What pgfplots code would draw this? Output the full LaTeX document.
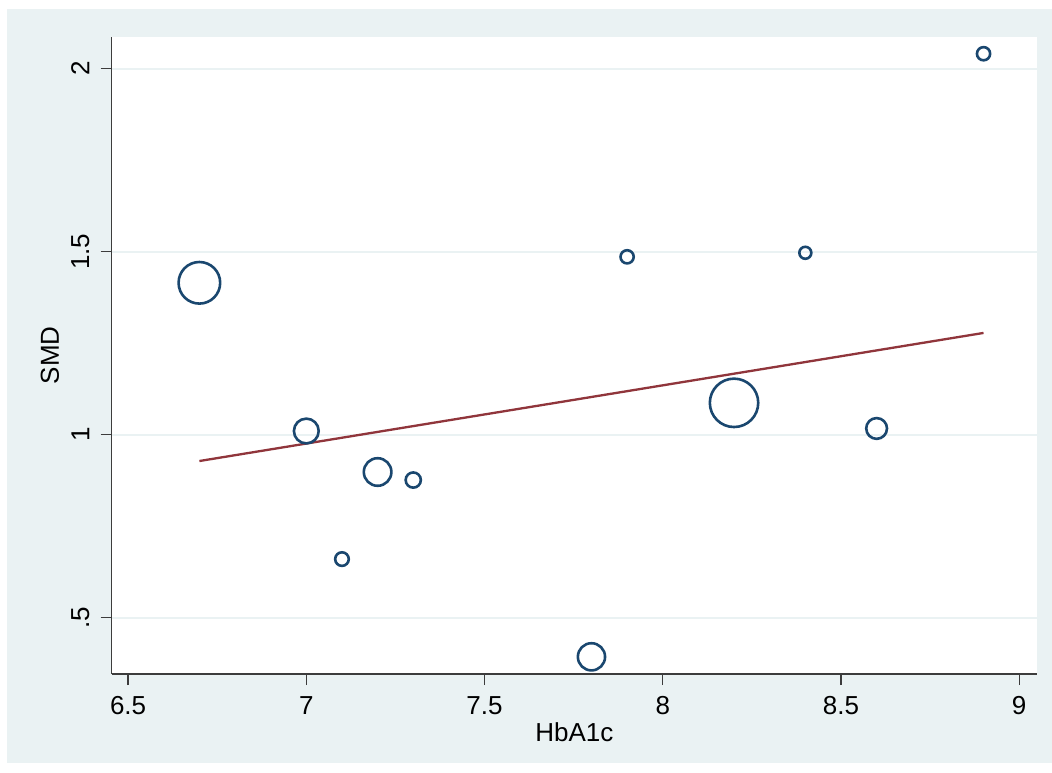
\documentclass[border=0pt]{standalone}
\usepackage{fontspec}
\setmainfont{Liberation Sans}
\usepackage{pgfplots}
\pgfplotsset{compat=1.18}
\usepackage{pgfplotstable}
\definecolor{bgc}{HTML}{EAF2F3}
\definecolor{navyc}{HTML}{1A476F}
\definecolor{maroonc}{HTML}{90353B}
\definecolor{axc}{HTML}{3C3C3C}
\pgfplotstableread{
x y r
6.7 1.415 10.4
7.0 1.010 6.2
7.1 0.660 3.4
7.2 0.898 6.9
7.3 0.876 3.8
7.8 0.393 6.8
7.9 1.486 3.3
8.2 1.087 12.1
8.4 1.497 3.0
8.6 1.017 5.2
8.9 2.041 3.3
}\bubbles
\begin{document}
\begin{tikzpicture}
\path[use as bounding box, fill=white] (0,0) rectangle (526pt,386pt);
\fill[bgc] (3.5pt,4.5pt) rectangle (526pt,381.5pt);
\begin{axis}[
 at={(55.85pt,49pt)}, anchor=south west,
 scale only axis, width=462.65pt, height=318.65pt,
 xmin=6.454, xmax=9.050, ymin=0.346, ymax=2.0875,
 axis background/.style={fill=white},
 axis x line*=bottom, axis y line*=left,
 axis line style={axc, line width=0.7pt, -},
 xtick={6.5,7,7.5,8,8.5,9}, xticklabels={6.5,7,7.5,8,8.5,9},
 ytick={0.5,1,1.5,2}, yticklabels={.5,1,1.5,2},
 tick align=outside, major tick length=5.5pt,
 tick style={axc, line width=0.6pt},
 ymajorgrids, grid style={bgc, line width=1pt},
 /pgf/number format/assume math mode=true,
 xticklabel shift=5.5pt, yticklabel shift=5.5pt,
 xticklabel style={font=\fontsize{13}{15}\selectfont, anchor=north, inner sep=0pt},
 yticklabel style={font=\fontsize{13}{15}\selectfont, rotate=90, anchor=south, inner sep=0pt},
 xlabel={HbA1c}, ylabel={SMD},
 xlabel style={at={(axis description cs:0.5,-0.091)}, anchor=center, font=\fontsize{13}{15}\selectfont},
 ylabel style={at={(axis description cs:-0.0667,0.5)}, anchor=center, font=\fontsize{13}{15}\selectfont},
]
\addplot[scatter, only marks, mark=o, line width=1.3pt,
  scatter/use mapped color={draw=navyc, fill=navyc},
  visualization depends on={\thisrow{r} \as \rad},
  scatter/@pre marker code/.append style={/tikz/mark size=\rad},
] table[x=x, y=y, meta=r] {\bubbles};
\addplot[maroonc, line width=1.15pt] coordinates {(6.7,0.928) (8.9,1.278)};
\end{axis}
\end{tikzpicture}
\end{document}
